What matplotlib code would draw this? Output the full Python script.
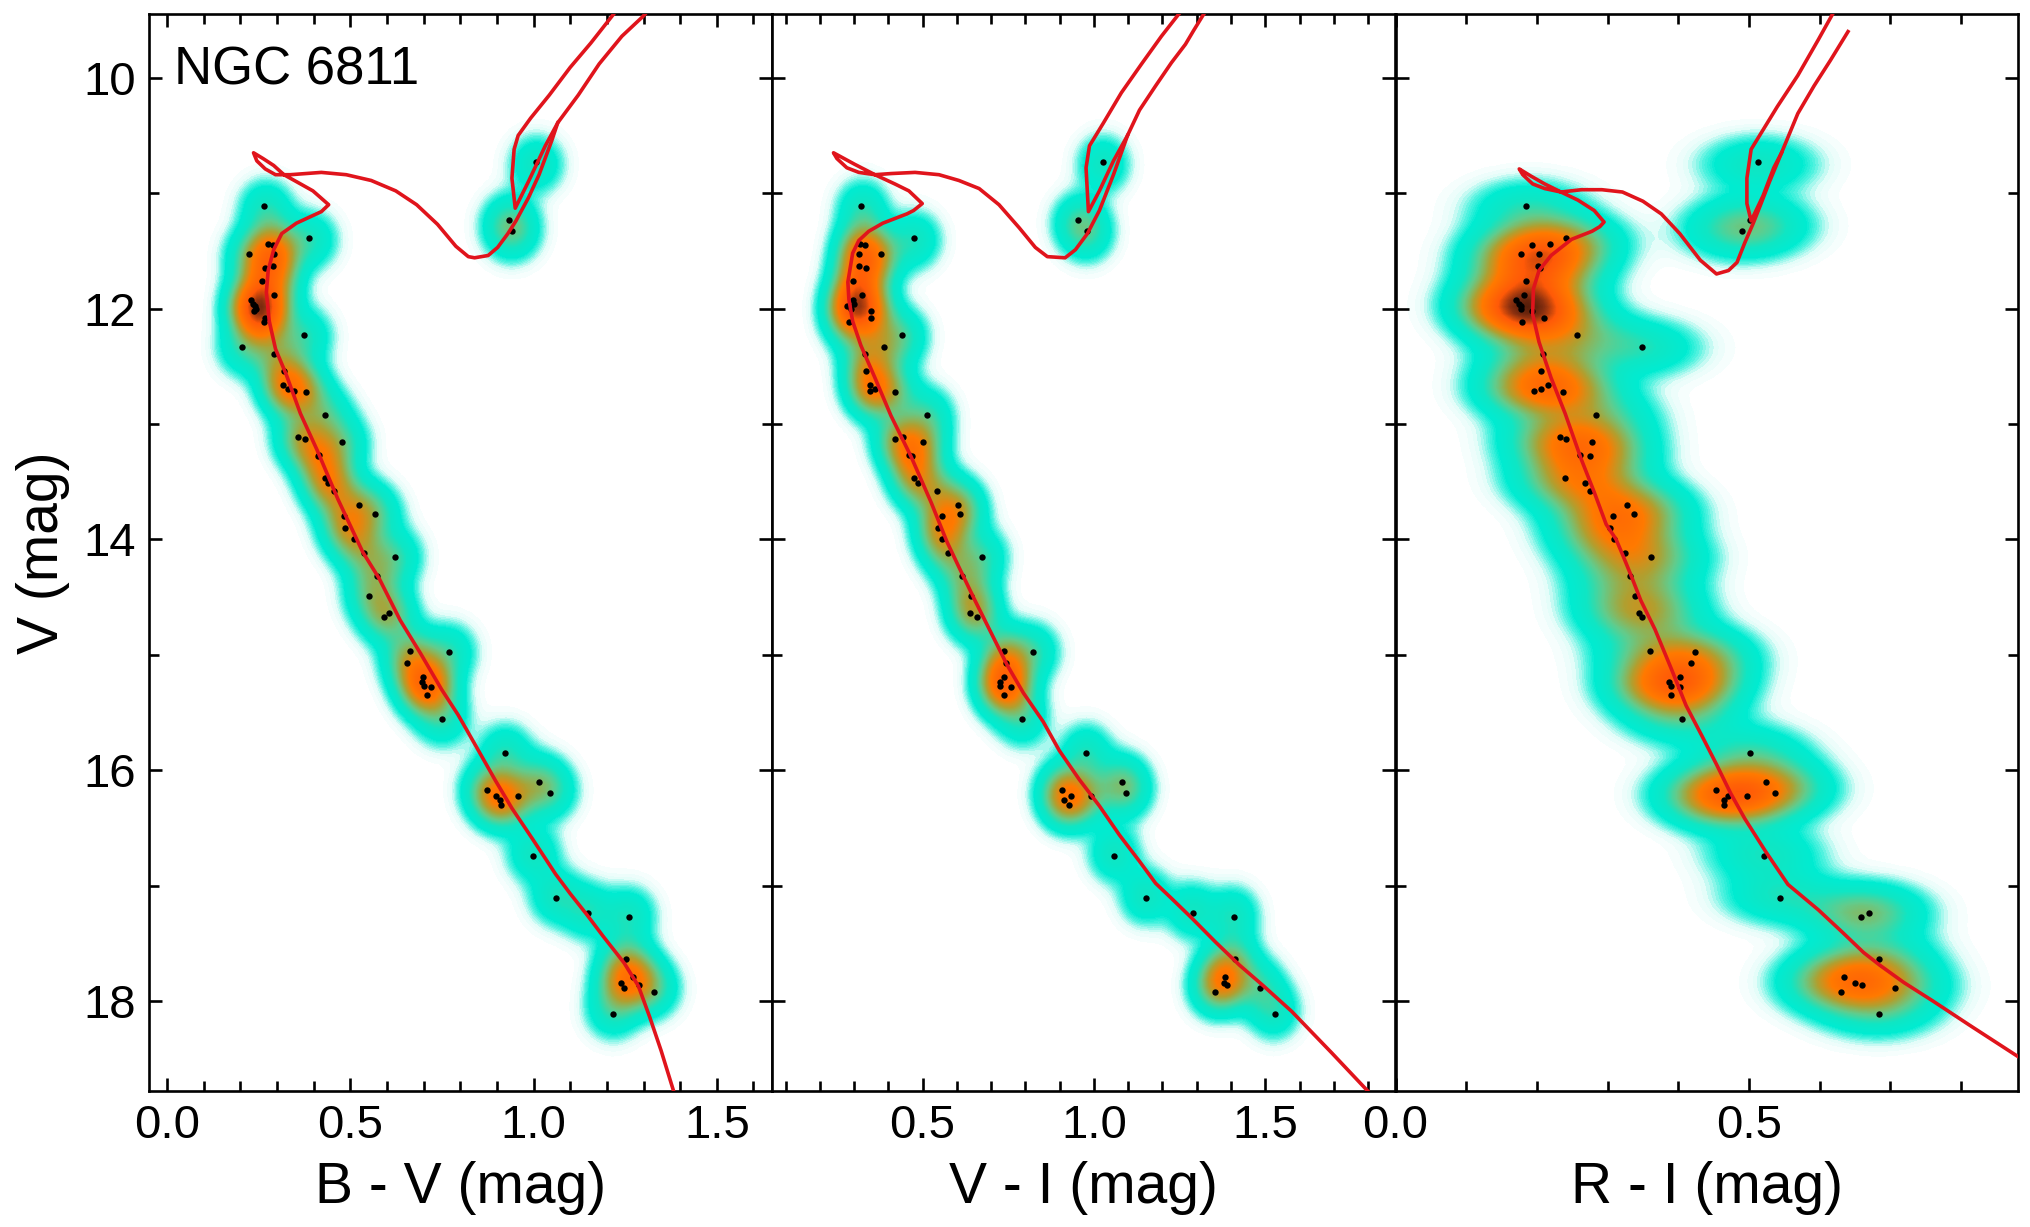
import numpy as np
import matplotlib
matplotlib.use("Agg")
import matplotlib.pyplot as plt
from matplotlib.colors import LinearSegmentedColormap
from matplotlib.ticker import MultipleLocator

plt.rcParams["font.family"] = ["Liberation Sans", "DejaVu Sans"]

# stars, same order in every list
v_mag = [10.73, 11.11, 11.23, 11.33, 11.39, 11.44, 11.445, 11.526, 11.526, 11.63, 11.65,
         11.76, 11.88, 11.93, 11.96, 11.98, 12.00, 12.02, 12.08, 12.12, 12.23, 12.33,
         12.39, 12.54, 12.66, 12.70, 12.71, 12.72, 12.92, 13.11, 13.13, 13.16, 13.27,
         13.28, 13.47, 13.51, 13.58, 13.70, 13.78, 13.80, 13.90, 14.00, 14.12, 14.15,
         14.316, 14.49, 14.64, 14.675, 14.97, 14.98, 15.07, 15.195, 15.235, 15.27, 15.28,
         15.35, 15.56, 15.855, 16.105, 16.17, 16.20, 16.22, 16.22, 16.26, 16.30, 16.74,
         17.11, 17.24, 17.275, 17.64, 17.79, 17.84, 17.86, 17.89, 17.92, 18.11]
b_v = [1.007, 0.265, 0.934, 0.941, 0.387, 0.276, 0.288, 0.223, 0.292, 0.290, 0.266,
       0.259, 0.292, 0.229, 0.235, 0.240, 0.242, 0.238, 0.266, 0.265, 0.374, 0.204,
       0.292, 0.319, 0.316, 0.330, 0.346, 0.379, 0.431, 0.356, 0.377, 0.477, 0.415,
       0.412, 0.432, 0.438, 0.455, 0.523, 0.567, 0.482, 0.485, 0.509, 0.537, 0.622,
       0.572, 0.551, 0.606, 0.592, 0.663, 0.768, 0.655, 0.698, 0.696, 0.700, 0.721,
       0.709, 0.750, 0.922, 1.015, 0.873, 1.045, 0.898, 0.958, 0.908, 0.911, 0.999,
       1.061, 1.148, 1.261, 1.252, 1.271, 1.239, 1.288, 1.247, 1.328, 1.217]
v_i = [1.027, 0.320, 0.954, 0.981, 0.474, 0.316, 0.332, 0.378, 0.315, 0.314, 0.334,
       0.298, 0.322, 0.296, 0.300, 0.279, 0.290, 0.349, 0.349, 0.285, 0.439, 0.387,
       0.332, 0.336, 0.348, 0.361, 0.348, 0.419, 0.512, 0.443, 0.419, 0.502, 0.460,
       0.468, 0.474, 0.487, 0.541, 0.602, 0.608, 0.556, 0.544, 0.556, 0.573, 0.672,
       0.616, 0.640, 0.639, 0.659, 0.739, 0.823, 0.744, 0.739, 0.727, 0.727, 0.758,
       0.739, 0.791, 0.977, 1.082, 0.908, 1.094, 0.934, 0.991, 0.914, 0.928, 1.059,
       1.151, 1.288, 1.409, 1.411, 1.382, 1.380, 1.388, 1.484, 1.353, 1.528]
r_i = [0.513, 0.185, 0.502, 0.490, 0.241, 0.218, 0.193, 0.177, 0.203, 0.201, 0.204,
       0.184, 0.182, 0.171, 0.174, 0.177, 0.177, 0.193, 0.210, 0.179, 0.257, 0.348,
       0.209, 0.206, 0.216, 0.206, 0.196, 0.237, 0.284, 0.232, 0.241, 0.278, 0.261,
       0.275, 0.240, 0.268, 0.275, 0.328, 0.337, 0.307, 0.303, 0.309, 0.324, 0.362,
       0.331, 0.339, 0.344, 0.349, 0.360, 0.424, 0.418, 0.402, 0.387, 0.390, 0.402,
       0.389, 0.405, 0.501, 0.524, 0.454, 0.537, 0.470, 0.497, 0.465, 0.465, 0.521,
       0.544, 0.669, 0.658, 0.684, 0.635, 0.650, 0.660, 0.707, 0.630, 0.684]

# isochrone, main sequence up to the giant branch
iso_bv = [1.382, 1.348, 1.317, 1.286, 1.247, 1.190, 1.145, 1.100, 1.060, 0.998, 0.941, 0.896,
          0.839, 0.794, 0.749, 0.692, 0.636, 0.579, 0.534, 0.466, 0.410, 0.364, 0.325, 0.296,
          0.279, 0.271, 0.276, 0.291, 0.313, 0.353, 0.421, 0.441, 0.398, 0.353, 0.319, 0.291,
          0.262, 0.236, 0.245, 0.268, 0.296, 0.336, 0.421, 0.489, 0.557, 0.624, 0.681, 0.738,
          0.788, 0.822, 0.839, 0.876, 0.902, 0.930, 0.952, 0.986, 1.015, 1.049, 1.066, 1.122,
          1.179, 1.241, 1.298, 1.326]
iso_bv_v = [18.78, 18.43, 18.14, 17.87, 17.67, 17.44, 17.25, 17.07, 16.90, 16.60, 16.33, 16.09,
            15.77, 15.52, 15.30, 14.99, 14.70, 14.34, 14.11, 13.65, 13.23, 12.91, 12.57, 12.35,
            12.11, 11.86, 11.67, 11.49, 11.35, 11.26, 11.16, 11.10, 10.98, 10.90, 10.84, 10.76,
            10.70, 10.65, 10.72, 10.79, 10.84, 10.84, 10.82, 10.84, 10.89, 10.98, 11.10, 11.27,
            11.46, 11.55, 11.56, 11.54, 11.47, 11.35, 11.24, 11.04, 10.84, 10.55, 10.39, 10.15,
            9.88, 9.64, 9.47, 9.37]
# second run of the giant branch, down to the clump and back
loop_bv = [1.240, 1.213, 1.156, 1.100, 1.043, 0.992, 0.958, 0.947, 0.941, 0.950, 0.986, 1.032, 1.066]
loop_bv_v = [9.36, 9.47, 9.70, 9.91, 10.15, 10.35, 10.50, 10.62, 10.87, 11.13, 10.90, 10.59, 10.39]

iso_vi = [1.799, 1.694, 1.577, 1.495, 1.425, 1.355, 1.285, 1.226, 1.180, 1.133, 1.074, 1.016,
          0.957, 0.899, 0.852, 0.794, 0.747, 0.700, 0.653, 0.606, 0.571, 0.525, 0.466, 0.408,
          0.361, 0.320, 0.296, 0.285, 0.282, 0.296, 0.314, 0.343, 0.384, 0.454, 0.474, 0.499,
          0.460, 0.419, 0.361, 0.302, 0.240, 0.250, 0.279, 0.314, 0.361, 0.408, 0.478, 0.548,
          0.606, 0.665, 0.723, 0.782, 0.829, 0.864, 0.916, 0.946, 0.981, 1.016, 1.057, 1.098,
          1.133, 1.180, 1.226, 1.267, 1.291, 1.320, 1.343]
iso_vi_v = [18.78, 18.45, 18.09, 17.87, 17.69, 17.49, 17.28, 17.11, 16.98, 16.79, 16.56, 16.31,
            16.08, 15.83, 15.58, 15.33, 15.09, 14.81, 14.53, 14.24, 14.02, 13.68, 13.28, 12.93,
            12.60, 12.32, 12.11, 11.92, 11.77, 11.52, 11.41, 11.33, 11.26, 11.18, 11.15, 11.09,
            10.98, 10.92, 10.84, 10.75, 10.65, 10.70, 10.78, 10.82, 10.84, 10.83, 10.82, 10.84,
            10.89, 10.96, 11.10, 11.30, 11.47, 11.55, 11.56, 11.49, 11.35, 11.15, 10.84, 10.50,
            10.28, 10.07, 9.87, 9.71, 9.59, 9.45, 9.36]
loop_vi = [1.273, 1.247, 1.197, 1.139, 1.080, 1.028, 0.987, 0.977, 0.981, 0.984, 1.016, 1.057, 1.098]
loop_vi_v = [9.36, 9.45, 9.64, 9.88, 10.13, 10.39, 10.59, 10.78, 11.00, 11.16, 10.98, 10.72, 10.50]

iso_ri = [0.880, 0.812, 0.760, 0.719, 0.685, 0.662, 0.633, 0.598, 0.555, 0.523, 0.494, 0.474,
          0.454, 0.434, 0.411, 0.390, 0.367, 0.347, 0.333, 0.321, 0.312, 0.298, 0.281, 0.263,
          0.240, 0.220, 0.203, 0.194, 0.195, 0.203, 0.220, 0.249, 0.278, 0.289, 0.295, 0.281,
          0.258, 0.234, 0.211, 0.191, 0.175, 0.180, 0.194, 0.211, 0.234, 0.263, 0.292, 0.321,
          0.350, 0.376, 0.402, 0.431, 0.454, 0.471, 0.483, 0.494, 0.506, 0.517, 0.529, 0.546,
          0.569, 0.592, 0.615, 0.630, 0.640]
iso_ri_v = [18.48, 18.21, 18.00, 17.84, 17.69, 17.58, 17.41, 17.21, 16.99, 16.70, 16.42, 16.20,
            15.95, 15.71, 15.44, 15.12, 14.78, 14.53, 14.31, 14.13, 14.00, 13.87, 13.59, 13.31,
            12.91, 12.60, 12.29, 12.05, 11.83, 11.67, 11.54, 11.40, 11.33, 11.29, 11.25, 11.15,
            11.06, 10.99, 10.92, 10.85, 10.79, 10.84, 10.92, 10.96, 10.99, 10.97, 10.97, 10.99,
            11.07, 11.18, 11.35, 11.58, 11.70, 11.67, 11.60, 11.43, 11.26, 11.09, 10.90, 10.65,
            10.31, 10.07, 9.85, 9.70, 9.60]
loop_ri = [0.627, 0.618, 0.598, 0.569, 0.540, 0.512, 0.503, 0.497, 0.497, 0.503, 0.520, 0.535, 0.546]
loop_ri_v = [9.36, 9.45, 9.67, 9.98, 10.25, 10.53, 10.62, 10.87, 11.09, 11.24, 11.02, 10.78, 10.65]

V_LIM = (18.78, 9.45)

density_cmap = LinearSegmentedColormap.from_list("hess", [
    (0.0, "#ffffff"),
    (0.012, "#e4fdf9"),
    (0.03, "#55f3e0"),
    (0.05, "#00ecd2"),
    (0.11, "#10e6c4"),
    (0.19, "#62cc8c"),
    (0.29, "#b0a030"),
    (0.40, "#ff7a00"),
    (0.62, "#ff5a08"),
    (0.76, "#8a3010"),
    (1.0, "#000000"),
])


def density(color, mag, xlim, sx, sy, power=2.0):
    xs = np.linspace(xlim[0], xlim[1], 130)
    ys = np.linspace(V_LIM[1], V_LIM[0], 160)
    xx, yy = np.meshgrid(xs, ys)
    z = np.zeros_like(xx)
    for c, m in zip(color, mag):
        z += np.exp(-np.abs((xx - c) / sx) ** power - np.abs((yy - m) / sy) ** power)
    return z


def panel(fig, box, xlim, color, iso, iso_v, loop, loop_v, xlabel, sx, sy, xticks):
    ax = fig.add_axes(box)
    z = density(color, v_mag, xlim, sx, sy)
    ax.imshow(z, extent=(xlim[0], xlim[1], V_LIM[0], V_LIM[1]), origin="upper", aspect="auto",
              cmap=density_cmap, vmin=0, vmax=9.0, interpolation="bilinear", zorder=1)
    ax.scatter(color, v_mag, s=21, c="black", linewidths=0, zorder=2)
    ax.plot(iso, iso_v, color="#e0141c", lw=2.6, zorder=3)
    ax.plot(loop, loop_v, color="#e0141c", lw=2.6, zorder=3)
    ax.set_xlim(xlim)
    ax.set_ylim(V_LIM)
    ax.set_xticks(xticks)
    ax.xaxis.set_minor_locator(MultipleLocator(0.1))
    ax.yaxis.set_major_locator(MultipleLocator(2))
    ax.yaxis.set_minor_locator(MultipleLocator(1))
    ax.tick_params(which="both", direction="in", top=True, right=True, width=1.9, labelsize=34, pad=9)
    ax.tick_params(which="major", length=9.5)
    ax.tick_params(which="minor", length=7)
    ax.set_xlabel(xlabel, fontsize=41, labelpad=10)
    for s in ax.spines.values():
        s.set_linewidth(1.9)
    return ax


W, H = 2031, 1227
lefts = [148.7, 771.8, 1395.5, 2017.7]
top, bottom = 14.3, 1091
boxes = [[lefts[i] / W, 1 - bottom / H, (lefts[i + 1] - lefts[i]) / W, (bottom - top) / H] for i in range(3)]

fig = plt.figure(figsize=(W / 100, H / 100), dpi=100)

ax1 = panel(fig, boxes[0], (-0.05, 1.65), b_v, iso_bv, iso_bv_v, loop_bv, loop_bv_v,
            "B - V (mag)", 0.064, 0.215, [0.0, 0.5, 1.0, 1.5])
ax2 = panel(fig, boxes[1], (0.06, 1.88), v_i, iso_vi, iso_vi_v, loop_vi, loop_vi_v,
            "V - I (mag)", 0.066, 0.215, [0.5, 1.0, 1.5])
ax3 = panel(fig, boxes[2], (0.0, 0.88), r_i, iso_ri, iso_ri_v, loop_ri, loop_ri_v,
            "R - I (mag)", 0.072, 0.215, [0.0, 0.5])

ax1.set_ylabel("V (mag)", fontsize=41, labelpad=10)
ax2.tick_params(labelleft=False)
ax3.tick_params(labelleft=False)
ax1.text(0.018, 10.06, "NGC 6811", fontsize=38, va="baseline", ha="left", zorder=4)

fig.savefig("out.png", dpi=100)
